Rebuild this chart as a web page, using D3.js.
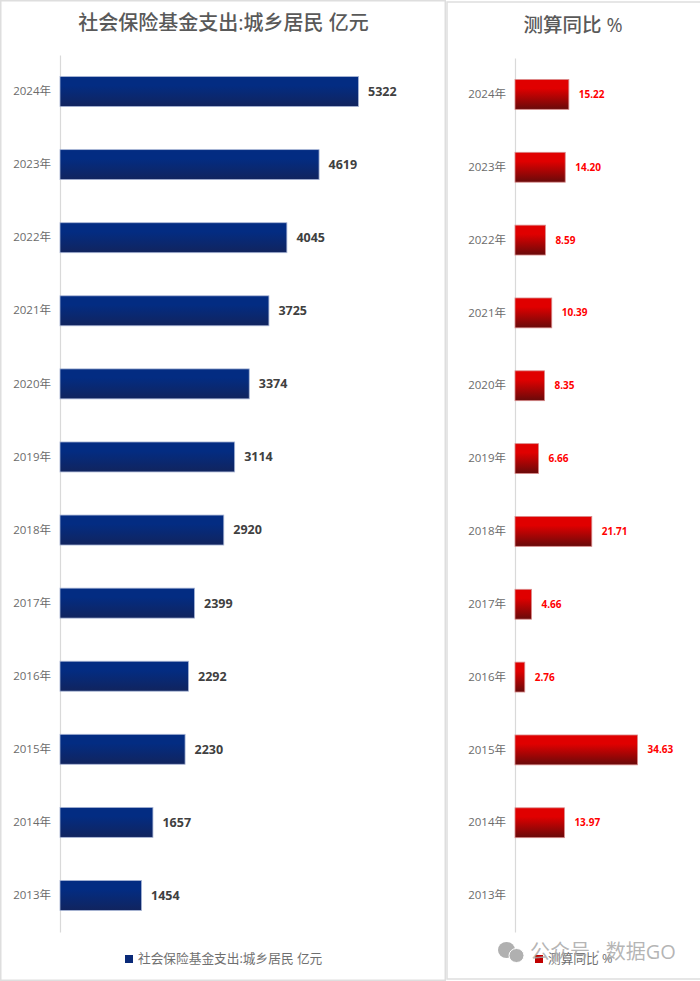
<!DOCTYPE html>
<html>
<head>
<meta charset="utf-8">
<script src="https://cdn.jsdelivr.net/npm/d3@7"></script>
<style>
body { margin: 0; background: #fff; }
svg { display: block; }
text { font-family: "Open Sans", "Noto Sans CJK SC", sans-serif; }
</style>
</head>
<body>
<svg width="700" height="981"></svg>
<script>
// data
var years = ["2024年", "2023年", "2022年", "2021年", "2020年", "2019年", "2018年", "2017年", "2016年", "2015年", "2014年", "2013年"];
var spending = [5322, 4619, 4045, 3725, 3374, 3114, 2920, 2399, 2292, 2230, 1657, 1454];
var yoy = [15.22, 14.20, 8.59, 10.39, 8.35, 6.66, 21.71, 4.66, 2.76, 34.63, 13.97, null];
var leftTitle = "社会保险基金支出:城乡居民 亿元";
var rightTitle = "测算同比 %";

var svg = d3.select("svg");

var defs = svg.append("defs");
function gradient(id, top, bottom) {
    var g = defs.append("linearGradient").attr("id", id)
        .attr("x1", 0).attr("y1", 0).attr("x2", 0).attr("y2", 1);
    g.append("stop").attr("offset", "0%").attr("stop-color", top);
    g.append("stop").attr("offset", "30%").attr("stop-color", top);
    g.append("stop").attr("offset", "100%").attr("stop-color", bottom);
}
gradient("blue", "#032c82", "#11245e");
gradient("red", "#e00000", "#680a0a");

// panel frames
svg.append("rect").attr("x", 0.75).attr("y", 0.75).attr("width", 444.5).attr("height", 979.5)
    .attr("fill", "#fff").attr("stroke", "#dedede").attr("stroke-width", 1.5);
svg.append("rect").attr("x", 447).attr("y", 2).attr("width", 255).attr("height", 977)
    .attr("fill", "#fff").attr("stroke", "#dedede").attr("stroke-width", 1.5);

function barPanel(o) {
    var x = d3.scaleLinear().domain([0, o.max]).range([o.left, o.right]);
    var y = d3.scaleBand().domain(years).range([o.top, o.bottom]).paddingInner(0.59).paddingOuter(0.295);
    var g = svg.append("g");

    var axis = g.append("g")
        .attr("transform", "translate(" + o.left + ",0)")
        .call(d3.axisLeft(y).tickSize(0).tickPadding(9));
    axis.select(".domain").attr("stroke", "#d9d9d9").attr("stroke-width", 1.2);
    axis.selectAll("text").attr("font-size", 11.5).attr("fill", "#6b6b6b");

    var rows = years.map(function (d, i) { return { year: d, value: o.values[i] }; })
        .filter(function (d) { return d.value != null; });

    g.selectAll(".bar").data(rows).enter().append("rect")
        .attr("class", "bar")
        .attr("x", o.left)
        .attr("y", function (d) { return y(d.year); })
        .attr("width", function (d) { return x(d.value) - o.left; })
        .attr("height", y.bandwidth())
        .attr("fill", "url(#" + o.fill + ")")
        .attr("stroke", o.edge)
        .attr("stroke-width", 0.8);

    g.selectAll(".val").data(rows).enter().append("text")
        .attr("class", "val")
        .attr("x", function (d) { return x(d.value) + o.gap; })
        .attr("y", function (d) { return y(d.year) + y.bandwidth() / 2; })
        .attr("dy", "0.35em")
        .attr("font-size", o.labelSize)
        .attr("font-weight", 700)
        .attr("fill", o.labelColor)
        .text(function (d) { return o.format(d.value); });

    svg.append("text").attr("x", o.titleX).attr("y", o.titleY)
        .attr("text-anchor", "middle").attr("font-size", o.titleSize)
        .attr("font-weight", 500)
        .attr("fill", "#595959").text(o.title);

    svg.append("rect").attr("x", o.legendX).attr("y", 955).attr("width", 8).attr("height", 8).attr("fill", o.legendFill);
    svg.append("text").attr("x", o.legendX + 13).attr("y", 963)
        .attr("font-size", 12.7).attr("fill", "#6f6f6f").text(o.title);
}

barPanel({
    values: spending, max: 5322, left: 60, right: 358.5, top: 55, bottom: 932,
    fill: "blue", edge: "#a9b6d6", gap: 9.5, labelSize: 12.5, labelColor: "#404040",
    format: function (d) { return d; }, title: leftTitle, titleX: 223.5, titleY: 30, titleSize: 20,
    legendX: 125, legendFill: "#0a2a78"
});
barPanel({
    values: yoy, max: 34.63, left: 515, right: 637.5, top: 58, bottom: 932,
    fill: "red", edge: "#d98a8a", gap: 10, labelSize: 10, labelColor: "#ff0000",
    format: function (d) { return d.toFixed(2); }, title: rightTitle, titleX: 573, titleY: 32, titleSize: 19.5,
    legendX: 535, legendFill: "#c00000"
});

// watermark
var wm = svg.append("g").attr("fill", "#b0b0b0");
wm.append("ellipse").attr("cx", 506.5).attr("cy", 950).attr("rx", 8.5).attr("ry", 8);
wm.append("ellipse").attr("cx", 516.5).attr("cy", 955.5).attr("rx", 7.5).attr("ry", 7)
    .attr("stroke", "#fff").attr("stroke-width", 1);
wm.append("text").attr("x", 530).attr("y", 959).attr("font-size", 20)
    .attr("fill", "#a8a8a8").attr("fill-opacity", 0.85)
    .attr("font-family", "Noto Sans CJK SC").text("公众号 · 数据GO");
</script>
</body>
</html>
